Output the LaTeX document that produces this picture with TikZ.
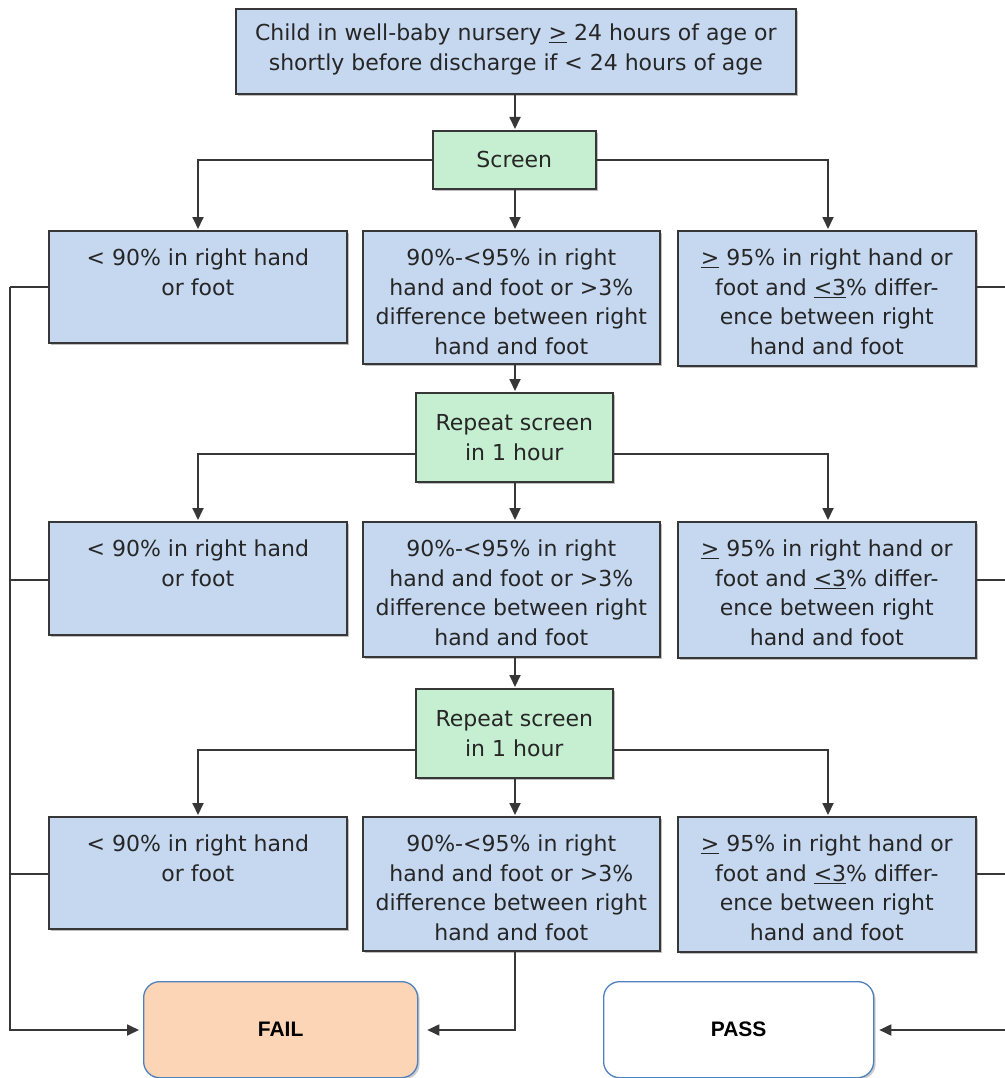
\documentclass[tikz,border=0pt]{standalone}
\usepackage{fontspec}
\setmainfont{DejaVu Sans}
\newfontfamily\arialfont{Liberation Sans}
\usetikzlibrary{arrows.meta,shadows}
\definecolor{bxblue}{RGB}{198,216,240}
\definecolor{bxgreen}{RGB}{198,239,210}
\definecolor{bxorange}{RGB}{251,213,181}
\definecolor{bxline}{RGB}{55,55,55}
\definecolor{endline}{RGB}{79,129,189}
\newcommand{\bxt}[3]{\parbox[c][#2pt][t]{#1pt}{\centering\rule{0pt}{34.5pt}#3}}
\begin{document}
\begin{tikzpicture}[x=1pt,y=-1pt,
  txt/.style={font=\fontsize{22}{29.7}\selectfont, text=black!85},
  base/.style={draw=bxline, line width=1.6pt, inner sep=0pt, txt,
    drop shadow={shadow xshift=2pt, shadow yshift=-2pt, fill=black, opacity=0.25}},
  bluebox/.style={base, fill=bxblue, anchor=north west},
  greenbox/.style={base, fill=bxgreen, align=center, anchor=north west},
  endbox/.style={draw=endline, line width=1.3pt, rounded corners=16pt, anchor=north west,
    inner sep=0pt, font=\arialfont\bfseries\fontsize{21}{25}\selectfont,
    drop shadow={shadow xshift=2pt, shadow yshift=-2pt, fill=black, opacity=0.2}},
  conn/.style={draw=bxline, line width=1.8pt},
  arr/.style={conn, -{Triangle[length=12pt,width=11pt]}, shorten >=1pt}
]
\useasboundingbox (0,0) rectangle (1004,1078);
\fill[white] (0,0) rectangle (1004,1078);

% top
\node[bluebox] (top) at (235,8) {\parbox[c][85pt][t]{560pt}{\centering\rule{0pt}{32pt}Child in well-baby nursery \underline{>} 24 hours of age or\\shortly before discharge if < 24 hours of age}};
\node[greenbox, minimum width=163pt, minimum height=58pt] (scr) at (432,130) {Screen};

% row 1
\node[bluebox] (l1) at (48,230) {\bxt{298}{112}{< 90\% in right hand\\or foot}};
\node[bluebox] (m1) at (362,230) {\bxt{297}{133}{90\%-<95\% in right\\hand and foot or >3\%\\difference between right\\hand and foot}};
\node[bluebox] (r1) at (677,230) {\bxt{298}{135}{\underline{>} 95\% in right hand or\\foot and \underline{<3}\% differ-\\ence between right\\hand and foot}};

\node[greenbox, minimum width=197pt, minimum height=89pt] (rp1) at (415,392) {Repeat screen\\in 1 hour};

% row 2
\node[bluebox] (l2) at (48,521) {\bxt{298}{113}{< 90\% in right hand\\or foot}};
\node[bluebox] (m2) at (362,521) {\bxt{297}{135}{90\%-<95\% in right\\hand and foot or >3\%\\difference between right\\hand and foot}};
\node[bluebox] (r2) at (677,521) {\bxt{298}{136}{\underline{>} 95\% in right hand or\\foot and \underline{<3}\% differ-\\ence between right\\hand and foot}};

\node[greenbox, minimum width=197pt, minimum height=89pt] (rp2) at (415,688) {Repeat screen\\in 1 hour};

% row 3
\node[bluebox] (l3) at (48,816) {\bxt{298}{112}{< 90\% in right hand\\or foot}};
\node[bluebox] (m3) at (362,816) {\bxt{297}{134}{90\%-<95\% in right\\hand and foot or >3\%\\difference between right\\hand and foot}};
\node[bluebox] (r3) at (677,816) {\bxt{298}{135}{\underline{>} 95\% in right hand or\\foot and \underline{<3}\% differ-\\ence between right\\hand and foot}};

% end boxes
\node[endbox, fill=bxorange, minimum width=274pt, minimum height=96pt] (fail) at (143,981) {FAIL};
\node[endbox, fill=white, minimum width=270pt, minimum height=96pt] (pass) at (603,981) {PASS};

% coordinates
\coordinate (cx) at (515,0);
\coordinate (lcx) at (198,0);
\coordinate (rcx) at (828,0);
\coordinate (lx1) at (10,287);
\coordinate (lx2) at (10,580);
\coordinate (lx3) at (10,874);
\coordinate (lbot) at (10,1030);
\coordinate (rx1) at (1012,287);
\coordinate (rx2) at (1012,580);
\coordinate (rx3) at (1012,874);
\coordinate (rbot) at (1012,1030);
\coordinate (mbot) at (515,1030);

% connectors
\draw[arr] (top.south -| cx) -- (scr.north -| cx);
\draw[arr] (scr.west) -| (l1.north -| lcx);
\draw[arr] (scr.south -| cx) -- (m1.north -| cx);
\draw[arr] (scr.east) -| (r1.north -| rcx);
\draw[arr] (m1.south -| cx) -- (rp1.north -| cx);
\draw[arr] ([yshift=-17pt]rp1.west) -| (l2.north -| lcx);
\draw[arr] (rp1.south -| cx) -- (m2.north -| cx);
\draw[arr] ([yshift=-17pt]rp1.east) -| (r2.north -| rcx);
\draw[arr] (m2.south -| cx) -- (rp2.north -| cx);
\draw[arr] ([yshift=-17pt]rp2.west) -| (l3.north -| lcx);
\draw[arr] (rp2.south -| cx) -- (m3.north -| cx);
\draw[arr] ([yshift=-17pt]rp2.east) -| (r3.north -| rcx);

\draw[conn] (l1.west |- lx1) -- (lx1);
\draw[conn] (l2.west |- lx2) -- (lx2);
\draw[conn] (l3.west |- lx3) -- (lx3);
\draw[arr, shorten >=4pt] (lx1) -- (lbot) -- (fail.west |- lbot);
\draw[arr, shorten >=9pt] (m3.south -| cx) -- (mbot) -- (fail.east |- mbot);

\draw[conn] (r1.east |- rx1) -- (rx1);
\draw[conn] (r2.east |- rx2) -- (rx2);
\draw[conn] (r3.east |- rx3) -- (rx3);
\draw[arr, shorten >=5pt] (rx1) -- (rbot) -- (pass.east |- rbot);
\end{tikzpicture}
\end{document}
